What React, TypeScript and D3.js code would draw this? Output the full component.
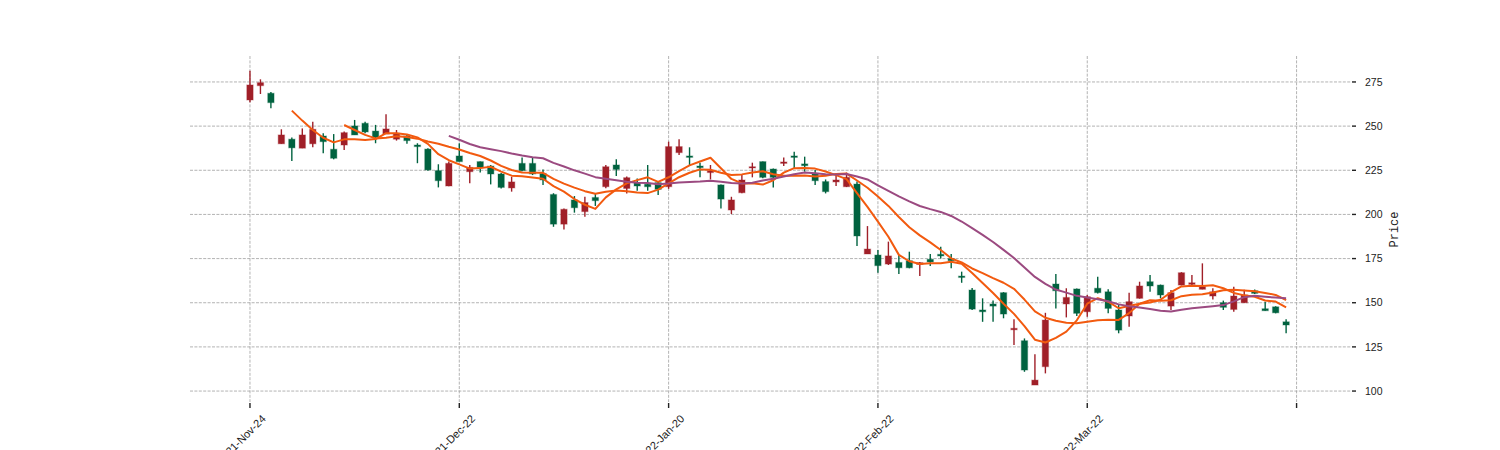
import React from 'react';
import * as d3 from 'd3';

// ---- data ----
const opens = [
  264.8, 272.9, 268.6, 240.0, 242.6, 237.5, 240.0, 244.4, 236.9, 239.3,
  250.1, 251.6, 247.2, 245.5, 242.6, 244.4, 239.3, 237.0, 224.8, 216.1,
  233.1, 224.2, 229.9, 227.4, 222.9, 215.0, 228.9, 228.9, 223.2, 211.3,
  194.5, 208.2, 201.6, 209.6, 215.7, 228.0, 214.7, 218.0, 217.1, 218.0,
  215.7, 235.0, 233.1, 227.4, 223.7, 216.7, 202.5, 212.3, 226.3, 229.9,
  225.7, 228.9, 233.1, 228.6, 223.2, 218.6, 218.4, 215.7, 217.2, 177.6,
  177.0, 171.9, 172.8, 173.8, 171.7, 174.6, 177.4, 175.0, 165.1, 157.2,
  145.9, 149.3, 155.7, 134.7, 128.5, 103.4, 113.8, 160.6, 149.3, 157.8,
  144.9, 158.2, 156.2, 145.9, 142.5, 152.5, 161.9, 160.0, 148.1, 160.0,
  160.4, 157.6, 153.8, 150.0, 146.2, 150.0, 156.8, 146.6, 147.7, 139.2,
];
const highs = [
  281.4, 276.5, 269.3, 248.2, 243.6, 248.7, 252.5, 245.9, 245.5, 246.9,
  253.5, 252.5, 250.7, 256.7, 247.8, 245.0, 240.3, 237.5, 228.4, 229.9,
  240.3, 228.0, 230.0, 228.0, 223.5, 221.3, 232.3, 232.3, 225.5, 212.0,
  203.4, 210.4, 210.0, 211.6, 228.0, 231.2, 221.5, 220.4, 228.0, 218.5,
  241.2, 242.6, 238.0, 229.3, 228.0, 217.0, 210.0, 222.3, 229.3, 230.0,
  226.0, 232.3, 235.5, 232.7, 225.2, 219.8, 222.3, 223.7, 218.6, 193.4,
  179.9, 184.6, 177.0, 178.9, 173.0, 177.6, 181.7, 177.6, 167.6, 158.3,
  152.5, 151.2, 156.0, 140.6, 129.8, 120.8, 144.3, 166.3, 158.2, 158.0,
  154.4, 164.7, 157.6, 148.7, 155.7, 161.9, 165.7, 160.3, 157.2, 167.3,
  165.7, 172.3, 158.2, 151.2, 159.0, 157.3, 157.5, 150.6, 148.0, 140.6,
];
const lows = [
  263.5, 268.2, 260.1, 240.0, 230.3, 237.5, 238.0, 234.6, 231.2, 236.5,
  245.0, 245.9, 240.3, 245.5, 241.8, 240.0, 229.0, 224.8, 215.3, 216.0,
  229.9, 217.6, 223.7, 217.0, 214.7, 212.9, 224.5, 222.3, 216.7, 193.0,
  191.5, 201.0, 198.7, 204.8, 214.8, 221.8, 211.9, 213.4, 213.4, 211.0,
  214.5, 233.7, 228.0, 221.0, 219.8, 203.4, 200.2, 212.0, 221.0, 220.5,
  215.3, 227.4, 226.1, 224.2, 216.7, 211.9, 216.1, 215.5, 182.1, 177.6,
  167.0, 171.4, 166.3, 169.5, 165.1, 170.8, 175.0, 169.5, 161.3, 145.9,
  139.2, 139.2, 141.2, 126.1, 110.9, 103.4, 110.0, 146.8, 141.7, 142.5,
  142.1, 155.3, 144.0, 132.7, 136.4, 152.3, 156.2, 152.5, 145.9, 159.8,
  159.2, 157.6, 151.9, 145.9, 144.9, 150.0, 155.0, 145.5, 144.0, 132.7,
];
const closes = [
  273.3, 274.6, 263.3, 245.0, 237.7, 245.0, 248.2, 241.2, 231.8, 246.3,
  245.0, 246.7, 243.6, 248.4, 245.9, 241.8, 238.4, 225.2, 219.1, 228.9,
  229.9, 226.6, 226.6, 222.9, 215.3, 218.4, 224.8, 222.9, 219.5, 194.5,
  202.9, 203.8, 206.7, 207.8, 227.0, 225.5, 220.8, 216.1, 215.7, 214.2,
  238.4, 238.4, 232.3, 226.5, 224.8, 208.7, 208.2, 219.5, 227.0, 221.0,
  221.0, 229.7, 232.3, 227.6, 219.1, 212.9, 219.5, 221.0, 187.8, 180.4,
  171.0, 176.5, 169.8, 169.8, 172.7, 173.1, 176.5, 173.8, 164.3, 146.4,
  144.9, 148.1, 143.6, 135.5, 111.9, 106.2, 140.2, 156.8, 153.0, 144.0,
  153.4, 155.7, 146.8, 134.5, 150.6, 159.5, 159.5, 154.4, 155.7, 167.0,
  161.3, 159.1, 156.2, 147.4, 153.8, 154.4, 155.3, 145.5, 144.3, 137.4,
];

const xTickIndex = [0, 20, 40, 60, 80, 100];
const xTickLabels = ['2021-Nov-24', '2021-Dec-22', '2022-Jan-20', '2022-Feb-22', '2022-Mar-22', ''];
const yTicks = [100, 125, 150, 175, 200, 225, 250, 275];
const mavPeriods = [5, 10, 20];
const mavColors = ['#f25a0f', '#f25a0f', '#9b4a80'];

const UP = '#a01f28';
const DOWN = '#00623f';

export default function App() {
  const W = 1500;
  const H = 450;
  const left = 190, right = 1351, top = 56, bottom = 402;

  const x = d3.scaleLinear().domain([-5.73, 105.2]).range([left, right]);
  const y = d3.scaleLinear().domain([93.8, 289.7]).range([bottom, top]);

  const n = closes.length;
  const bodyW = 6.3;

  const mavs = mavPeriods.map((p) => {
    const pts: [number, number][] = [];
    for (let i = p - 1; i < n; i++) {
      const m = d3.mean(closes.slice(i - p + 1, i + 1)) as number;
      pts.push([i, m]);
    }
    return pts;
  });
  const line = d3.line<[number, number]>().x((d) => x(d[0])).y((d) => y(d[1]));

  const gridColor = '#a0a0a0';
  const font = '"Liberation Sans", Arial, sans-serif';

  return (
    <svg width={W} height={H} style={{ position: 'absolute', left: 0, top: 0, background: '#fff' }}>
      {/* grid */}
      <g>
        {yTicks.map((t) => (
          <line key={'gy' + t} x1={left} x2={right} y1={y(t)} y2={y(t)} stroke={gridColor} strokeWidth={0.8} strokeDasharray="3,1.4" />
        ))}
        {xTickIndex.map((t) => (
          <line key={'gx' + t} x1={x(t)} x2={x(t)} y1={top} y2={bottom} stroke={gridColor} strokeWidth={0.8} strokeDasharray="3,1.4" />
        ))}
      </g>
      {/* candles */}
      <g>
        {closes.map((c, i) => {
          const o = opens[i];
          const up = c >= o;
          const col = up ? UP : DOWN;
          const cx = x(i);
          const yt = y(Math.max(o, c));
          const yb = y(Math.min(o, c));
          const h = Math.max(yb - yt, 1);
          return (
            <g key={'c' + i}>
              <line x1={cx} x2={cx} y1={y(highs[i])} y2={y(lows[i])} stroke={col} strokeWidth={1.4} />
              <rect x={cx - bodyW / 2} y={yt} width={bodyW} height={h} fill={col} stroke={col} strokeOpacity={0.3} strokeWidth={1.2} />
            </g>
          );
        })}
      </g>
      {/* moving averages */}
      <g>
        {mavs.map((pts, k) => (
          <path key={'m' + k} d={line(pts) || ''} fill="none" stroke={mavColors[k]} strokeWidth={2} strokeLinejoin="round" />
        ))}
      </g>
      {/* x ticks */}
      <g>
        {xTickIndex.map((t, k) => (
          <g key={'xt' + t}>
            <line x1={x(t)} x2={x(t)} y1={403} y2={408} stroke="#222" strokeWidth={1.4} />
            {xTickLabels[k] && (
              <text
                transform={`translate(${x(t) + 16.5},${419.5}) rotate(-45)`}
                textAnchor="end"
                fontFamily={font}
                fontSize={11}
                fill="#222"
              >
                {xTickLabels[k]}
              </text>
            )}
          </g>
        ))}
      </g>
      {/* y ticks */}
      <g>
        {yTicks.map((t) => (
          <g key={'yt' + t}>
            <line x1={1352} x2={1356} y1={y(t)} y2={y(t)} stroke="#222" strokeWidth={1.4} />
            <text x={1365} y={y(t)} dy="0.35em" fontFamily={font} fontSize={10.5} fill="#222">
              {t}
            </text>
          </g>
        ))}
      </g>
      <text
        transform={`translate(1398,229.5) rotate(-90)`}
        textAnchor="middle"
        fontFamily='"Liberation Mono", "DejaVu Sans Mono", monospace'
        fontSize={12}
        fill="#222"
      >
        Price
      </text>
    </svg>
  );
}
